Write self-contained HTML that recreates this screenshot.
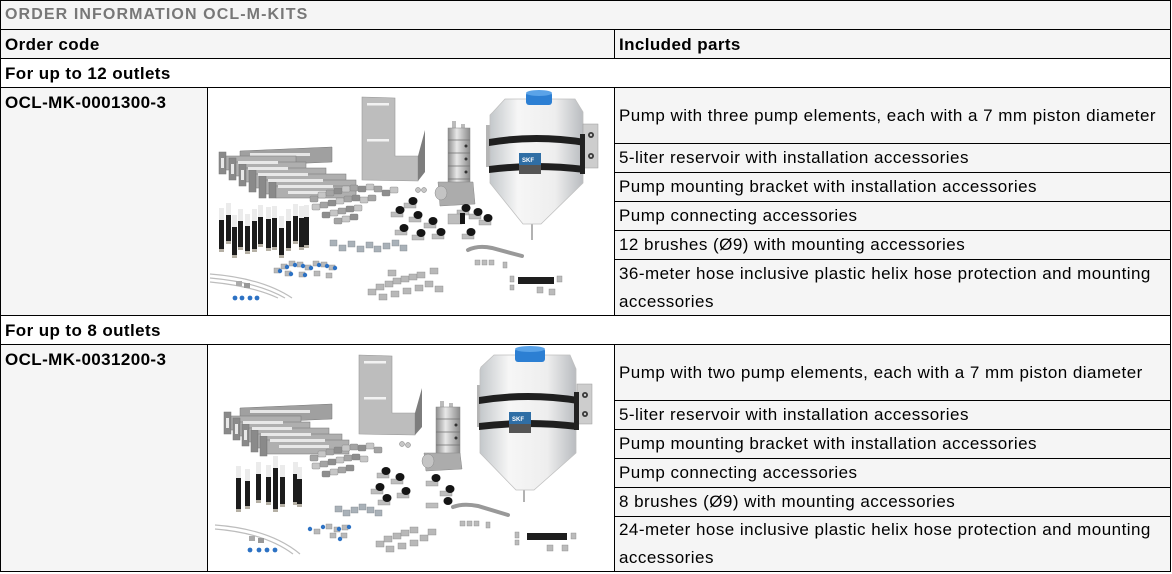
<!DOCTYPE html>
<html>
<head>
<meta charset="utf-8">
<style>
html,body{margin:0;padding:0;}
body{width:1172px;height:574px;background:#fff;position:relative;overflow:hidden;font-family:"Liberation Sans",Arial,sans-serif;color:#000;}
.a{position:absolute;}
.bg{position:absolute;background:#f5f5f5;}
.h{position:absolute;height:1px;background:#000;}
.v{position:absolute;width:1px;background:#000;}
.b{position:absolute;font-weight:bold;font-size:17px;letter-spacing:0.4px;line-height:29px;white-space:nowrap;}
.t{position:absolute;left:615px;width:555px;box-sizing:border-box;padding-left:4px;display:flex;align-items:center;font-size:17px;letter-spacing:0.47px;line-height:28px;white-space:nowrap;}
</style>
</head>
<body>
<svg width="0" height="0" style="position:absolute">
<defs>
<linearGradient id="tk" x1="0" x2="1" y1="0" y2="0"><stop offset="0" stop-color="#c4c8cb"/><stop offset="0.3" stop-color="#f6f6f6"/><stop offset="0.7" stop-color="#eeeeee"/><stop offset="1" stop-color="#b9bcc0"/></linearGradient>
<linearGradient id="cy" x1="0" x2="1" y1="0" y2="0"><stop offset="0" stop-color="#8d8d8d"/><stop offset="0.4" stop-color="#e8e8e8"/><stop offset="1" stop-color="#8a8a8a"/></linearGradient>
</defs>
</svg>

<!-- backgrounds -->
<div class="bg" style="left:0;top:0;width:1171px;height:58px;"></div>
<div class="bg" style="left:0;top:87px;width:207px;height:228px;"></div>
<div class="bg" style="left:614px;top:87px;width:557px;height:228px;"></div>
<div class="bg" style="left:0;top:344px;width:207px;height:228px;"></div>
<div class="bg" style="left:614px;top:344px;width:557px;height:228px;"></div>

<!-- images -->
<svg class="a" style="left:208px;top:88px" width="406" height="227" viewBox="208 88 406 227">
<!-- bracket stack -->
<polygon points="240,151 332,147 332,162 240,166" fill="#a0a0a0" stroke="#777" stroke-width="0.5"/>
<rect x="250" y="153" width="60" height="3" fill="#e6e6e6"/>
<g stroke="#777" stroke-width="0.5">
<rect x="219" y="152" width="7" height="22" fill="#8a8a8a"/><rect x="226" y="156" width="70" height="14" fill="#afafaf"/>
<rect x="229" y="158" width="7" height="22" fill="#8a8a8a"/><rect x="236" y="162" width="70" height="14" fill="#afafaf"/>
<rect x="239" y="164" width="7" height="22" fill="#8a8a8a"/><rect x="246" y="168" width="80" height="14" fill="#afafaf"/>
<rect x="249" y="170" width="7" height="22" fill="#8a8a8a"/><rect x="256" y="174" width="90" height="14" fill="#afafaf"/>
<rect x="259" y="176" width="7" height="22" fill="#8a8a8a"/><rect x="266" y="180" width="90" height="14" fill="#afafaf"/>
<rect x="269" y="182" width="7" height="16" fill="#8a8a8a"/><rect x="276" y="186" width="80" height="12" fill="#afafaf"/>
</g>
<g fill="#e8e8e8">
<rect x="238" y="161" width="40" height="3"/><rect x="248" y="167" width="40" height="3"/><rect x="258" y="173" width="50" height="3"/>
<rect x="268" y="179" width="55" height="3"/><rect x="278" y="185" width="55" height="3"/><rect x="288" y="191" width="45" height="3"/>
<rect x="221" y="158" width="3" height="10"/><rect x="231" y="164" width="3" height="10"/><rect x="241" y="170" width="3" height="10"/>
</g>
<!-- L bracket -->
<polygon points="362,97 395,98 395,156 418,156 418,181 362,180" fill="#bdbdbd" stroke="#999" stroke-width="0.6"/>
<polygon points="418,156 425,130 425,172 418,181" fill="#7d7d7d"/>
<rect x="367" y="103" width="22" height="2.5" fill="#f2f2f2"/>
<rect x="367" y="139" width="22" height="2.5" fill="#f2f2f2"/>
<circle cx="418" cy="190" r="2.5" fill="#c6c6c6" stroke="#777" stroke-width="0.5"/>
<circle cx="424" cy="190" r="2.5" fill="#c6c6c6" stroke="#777" stroke-width="0.5"/>
<!-- pump -->
<rect x="452" y="121" width="4" height="8" fill="#bbb"/><rect x="461" y="124" width="4" height="5" fill="#bbb"/>
<rect x="448" y="128" width="22" height="58" fill="url(#cy)" stroke="#888" stroke-width="0.5"/>
<g stroke="#6f6f6f" stroke-width="0.8"><line x1="448" y1="140" x2="470" y2="140"/><line x1="448" y1="153" x2="470" y2="153"/><line x1="448" y1="166" x2="470" y2="166"/><line x1="448" y1="179" x2="470" y2="179"/></g>
<g fill="#333"><circle cx="466" cy="146" r="1.5"/><circle cx="466" cy="159" r="1.5"/><circle cx="466" cy="172" r="1.5"/></g>
<polygon points="438,182 473,182 475,204 440,206" fill="#acacac" stroke="#888" stroke-width="0.5"/>
<ellipse cx="441" cy="193" rx="6" ry="7" fill="#c4c4c4" stroke="#888" stroke-width="0.5"/>
<!-- tank -->
<line x1="532" y1="222" x2="532" y2="240" stroke="#999" stroke-width="1.5"/>
<rect x="486" y="125" width="5" height="42" fill="#b5b5b5"/>
<polygon points="493,112 505,99 575,99 583,112 583,183 541,224 523,224 490,183 490,115" fill="url(#tk)" stroke="#c0c0c0" stroke-width="0.8"/>
<path d="M489,139 Q536,131 585,139 L585,146 Q536,138 489,146 Z" fill="#1f1f1f"/>
<path d="M489,166 Q536,160 585,166 L585,173 Q536,167 489,173 Z" fill="#1f1f1f"/>
<rect x="583" y="124" width="15" height="44" fill="#cdcdcd" stroke="#9a9a9a" stroke-width="0.5"/>
<rect x="580" y="134" width="5" height="40" fill="#222"/>
<circle cx="591" cy="135" r="3" fill="#3a3a3a"/><circle cx="591" cy="135" r="1.2" fill="#ccc"/>
<circle cx="591" cy="156" r="3" fill="#3a3a3a"/><circle cx="591" cy="156" r="1.2" fill="#ccc"/>
<rect x="519" y="153" width="22" height="12" fill="#2f6ea5"/>
<rect x="519" y="165" width="22" height="9" fill="#555"/>
<text x="522" y="162" font-family="Liberation Sans, sans-serif" font-size="6" font-weight="bold" fill="#fff">SKF</text>
<rect x="526" y="92" width="26" height="13" rx="3" fill="#2c7fd3"/>
<ellipse cx="539" cy="93" rx="13" ry="3" fill="#5aa3e8"/>
<!-- fittings cluster -->
<g stroke="#7d7d7d" stroke-width="0.4">
<rect x="310" y="196" width="8" height="6" rx="1" fill="#a4a4a4"/><rect x="318" y="192" width="8" height="6" rx="1" fill="#c6c6c6"/><rect x="326" y="190" width="8" height="6" rx="1" fill="#a4a4a4"/><rect x="334" y="188" width="8" height="6" rx="1" fill="#8e8e8e"/><rect x="342" y="186" width="8" height="6" rx="1" fill="#c6c6c6"/><rect x="350" y="185" width="8" height="6" rx="1" fill="#a4a4a4"/><rect x="358" y="186" width="8" height="6" rx="1" fill="#8e8e8e"/><rect x="366" y="184" width="8" height="6" rx="1" fill="#c6c6c6"/><rect x="374" y="186" width="8" height="6" rx="1" fill="#a4a4a4"/><rect x="382" y="190" width="8" height="6" rx="1" fill="#8e8e8e"/><rect x="390" y="187" width="8" height="6" rx="1" fill="#c6c6c6"/>
<rect x="312" y="204" width="8" height="6" rx="1" fill="#c6c6c6"/><rect x="320" y="202" width="8" height="6" rx="1" fill="#a4a4a4"/><rect x="328" y="200" width="8" height="6" rx="1" fill="#8e8e8e"/><rect x="336" y="198" width="8" height="6" rx="1" fill="#c6c6c6"/><rect x="344" y="196" width="8" height="6" rx="1" fill="#a4a4a4"/><rect x="352" y="195" width="8" height="6" rx="1" fill="#8e8e8e"/><rect x="360" y="197" width="8" height="6" rx="1" fill="#c6c6c6"/><rect x="368" y="195" width="8" height="6" rx="1" fill="#a4a4a4"/>
<rect x="322" y="212" width="8" height="6" rx="1" fill="#8e8e8e"/><rect x="330" y="210" width="8" height="6" rx="1" fill="#c6c6c6"/><rect x="338" y="208" width="8" height="6" rx="1" fill="#a4a4a4"/><rect x="346" y="206" width="8" height="6" rx="1" fill="#8e8e8e"/><rect x="354" y="205" width="8" height="6" rx="1" fill="#c6c6c6"/>
<rect x="334" y="218" width="8" height="6" rx="1" fill="#a4a4a4"/><rect x="342" y="216" width="8" height="6" rx="1" fill="#c6c6c6"/><rect x="350" y="214" width="8" height="6" rx="1" fill="#8e8e8e"/>
</g>
<!-- clamps -->
<g stroke="#8a8a8a" stroke-width="0.4" fill="#bdbdbd">
<rect x="391" y="212" width="12" height="5"/><rect x="404" y="203" width="12" height="5"/><rect x="409" y="217" width="12" height="5"/><rect x="424" y="223" width="12" height="5"/><rect x="432" y="234" width="12" height="5"/><rect x="395" y="230" width="12" height="5"/><rect x="412" y="235" width="12" height="5"/><rect x="457" y="210" width="12" height="5"/><rect x="469" y="214" width="12" height="5"/><rect x="479" y="220" width="12" height="5"/><rect x="462" y="234" width="12" height="5"/><rect x="448" y="214" width="14" height="10"/>
</g>
<g fill="#151515">
<ellipse cx="400" cy="210" rx="4.5" ry="4"/><ellipse cx="413" cy="201" rx="4.5" ry="4"/><ellipse cx="418" cy="215" rx="4.5" ry="4"/><ellipse cx="433" cy="221" rx="4.5" ry="4"/><ellipse cx="441" cy="232" rx="4.5" ry="4"/><ellipse cx="404" cy="228" rx="4.5" ry="4"/><ellipse cx="421" cy="233" rx="4.5" ry="4"/><ellipse cx="466" cy="208" rx="4.5" ry="4"/><ellipse cx="478" cy="212" rx="4.5" ry="4"/><ellipse cx="488" cy="218" rx="4.5" ry="4"/><ellipse cx="471" cy="232" rx="4.5" ry="4"/><rect x="460" y="213" width="5" height="11"/>
</g>
<!-- nuts -->
<g fill="#a9b1b8" stroke="#7f878d" stroke-width="0.4">
<rect x="330" y="240" width="7" height="6"/><rect x="339" y="245" width="7" height="6"/><rect x="348" y="241" width="7" height="6"/><rect x="357" y="246" width="7" height="6"/><rect x="366" y="242" width="7" height="6"/><rect x="374" y="246" width="7" height="6"/><rect x="383" y="243" width="7" height="6"/><rect x="392" y="240" width="7" height="6"/><rect x="400" y="245" width="7" height="6"/>
</g>
<!-- blue fittings -->
<g fill="#b9b9b9" stroke="#888" stroke-width="0.4">
<rect x="274" y="268" width="6" height="5"/><rect x="281" y="264" width="6" height="5"/><rect x="289" y="261" width="6" height="5"/><rect x="297" y="262" width="6" height="5"/><rect x="305" y="265" width="6" height="5"/><rect x="313" y="261" width="6" height="5"/><rect x="321" y="262" width="6" height="5"/><rect x="329" y="265" width="6" height="5"/><rect x="285" y="271" width="6" height="5"/><rect x="299" y="272" width="6" height="5"/><rect x="314" y="271" width="6" height="5"/><rect x="326" y="273" width="6" height="5"/>
</g>
<g fill="#2d72c4">
<circle cx="280" cy="271" r="2.2"/><circle cx="287" cy="267" r="2.2"/><circle cx="295" cy="265" r="2.2"/><circle cx="303" cy="266" r="2.2"/><circle cx="311" cy="268" r="2.2"/><circle cx="319" cy="265" r="2.2"/><circle cx="327" cy="266" r="2.2"/><circle cx="335" cy="268" r="2.2"/><circle cx="291" cy="274" r="2.2"/><circle cx="305" cy="275" r="2.2"/>
</g>
<!-- hoses -->
<g stroke="#bdbdbd" stroke-width="1.2" fill="none">
<path d="M210,274 Q262,278 292,298"/><path d="M210,278 Q257,282 285,298"/><path d="M210,282 Q252,286 278,298"/>
</g>
<rect x="236" y="281" width="6" height="5" fill="#aaa"/><rect x="244" y="283" width="6" height="5" fill="#999"/>
<g fill="#2d72c4"><circle cx="235" cy="298" r="2.4"/><circle cx="242" cy="298" r="2.4"/><circle cx="250" cy="298" r="2.4"/><circle cx="257" cy="298" r="2.4"/></g>
<!-- bottom fittings -->
<g fill="#b8b8b8" stroke="#888" stroke-width="0.4">
<rect x="368" y="289" width="8" height="6"/><rect x="376" y="284" width="8" height="6"/><rect x="385" y="281" width="8" height="6"/><rect x="393" y="278" width="8" height="6"/><rect x="401" y="276" width="8" height="6"/><rect x="409" y="274" width="8" height="6"/><rect x="417" y="272" width="8" height="6"/><rect x="379" y="294" width="8" height="6"/><rect x="391" y="291" width="8" height="6"/><rect x="403" y="288" width="8" height="6"/><rect x="415" y="285" width="8" height="6"/><rect x="425" y="281" width="8" height="6"/><rect x="435" y="286" width="8" height="6"/><rect x="388" y="270" width="8" height="6"/><rect x="430" y="268" width="8" height="6"/>
</g>
<!-- rod, tube -->
<path d="M468,250 Q478,245 492,248 L522,256" stroke="#999" stroke-width="4" stroke-linecap="round" fill="none"/>
<g fill="#bbb" stroke="#888" stroke-width="0.4"><rect x="475" y="260" width="5" height="5"/><rect x="482" y="260" width="5" height="5"/><rect x="489" y="260" width="5" height="5"/><rect x="503" y="262" width="4" height="6"/><rect x="510" y="276" width="4" height="6"/><rect x="510" y="285" width="4" height="5"/><rect x="557" y="276" width="5" height="6"/><rect x="537" y="287" width="6" height="6"/><rect x="549" y="289" width="6" height="6"/></g>
<rect x="518" y="277" width="36" height="7" fill="#1e1e1e"/>
<!-- brushes -->
<g>
<rect x="219" y="208" width="5" height="12" fill="#ebebeb"/><rect x="219" y="220" width="5" height="29" fill="#1c1c1c"/><rect x="219" y="249" width="5" height="3" fill="#b5b0a5"/>
<rect x="226" y="203" width="5" height="12" fill="#ebebeb"/><rect x="226" y="215" width="5" height="26" fill="#1c1c1c"/><rect x="226" y="241" width="5" height="3" fill="#b5b0a5"/>
<rect x="232" y="215" width="5" height="12" fill="#ebebeb"/><rect x="232" y="227" width="5" height="28" fill="#1c1c1c"/><rect x="232" y="255" width="5" height="3" fill="#b5b0a5"/>
<rect x="238" y="209" width="5" height="12" fill="#ebebeb"/><rect x="238" y="221" width="5" height="26" fill="#1c1c1c"/><rect x="238" y="247" width="5" height="3" fill="#b5b0a5"/>
<rect x="245" y="214" width="5" height="12" fill="#ebebeb"/><rect x="245" y="226" width="5" height="25" fill="#1c1c1c"/><rect x="245" y="251" width="5" height="3" fill="#b5b0a5"/>
<rect x="252" y="209" width="5" height="12" fill="#ebebeb"/><rect x="252" y="221" width="5" height="28" fill="#1c1c1c"/><rect x="252" y="249" width="5" height="3" fill="#b5b0a5"/>
<rect x="258" y="205" width="5" height="12" fill="#ebebeb"/><rect x="258" y="217" width="5" height="27" fill="#1c1c1c"/><rect x="258" y="244" width="5" height="3" fill="#b5b0a5"/>
<rect x="266" y="207" width="5" height="12" fill="#ebebeb"/><rect x="266" y="219" width="5" height="29" fill="#1c1c1c"/><rect x="266" y="248" width="5" height="3" fill="#b5b0a5"/>
<rect x="272" y="206" width="5" height="12" fill="#ebebeb"/><rect x="272" y="218" width="5" height="29" fill="#1c1c1c"/><rect x="272" y="247" width="5" height="3" fill="#b5b0a5"/>
<rect x="279" y="216" width="5" height="12" fill="#ebebeb"/><rect x="279" y="228" width="5" height="27" fill="#1c1c1c"/><rect x="279" y="255" width="5" height="3" fill="#b5b0a5"/>
<rect x="286" y="209" width="5" height="12" fill="#ebebeb"/><rect x="286" y="221" width="5" height="27" fill="#1c1c1c"/><rect x="286" y="248" width="5" height="3" fill="#b5b0a5"/>
<rect x="293" y="204" width="5" height="12" fill="#ebebeb"/><rect x="293" y="216" width="5" height="25" fill="#1c1c1c"/><rect x="293" y="241" width="5" height="3" fill="#b5b0a5"/>
<rect x="299" y="206" width="5" height="12" fill="#ebebeb"/><rect x="299" y="218" width="5" height="29" fill="#1c1c1c"/><rect x="299" y="247" width="5" height="3" fill="#b5b0a5"/>
<rect x="304" y="205" width="5" height="12" fill="#ebebeb"/><rect x="304" y="217" width="5" height="28" fill="#1c1c1c"/><rect x="304" y="245" width="5" height="3" fill="#b5b0a5"/>
</g>
</svg>

<svg class="a" style="left:208px;top:345px" width="406" height="227" viewBox="208 88 406 227">
<polygon points="240,151 332,147 332,162 240,166" fill="#a0a0a0" stroke="#777" stroke-width="0.5"/>
<rect x="250" y="153" width="60" height="3" fill="#e6e6e6"/>
<g stroke="#777" stroke-width="0.5">
<rect x="224" y="155" width="7" height="22" fill="#8a8a8a"/><rect x="231" y="159" width="70" height="14" fill="#afafaf"/>
<rect x="233" y="161" width="7" height="22" fill="#8a8a8a"/><rect x="240" y="165" width="70" height="14" fill="#afafaf"/>
<rect x="242" y="167" width="7" height="22" fill="#8a8a8a"/><rect x="249" y="171" width="80" height="14" fill="#afafaf"/>
<rect x="251" y="173" width="7" height="22" fill="#8a8a8a"/><rect x="258" y="177" width="84" height="14" fill="#afafaf"/>
<rect x="260" y="179" width="7" height="20" fill="#8a8a8a"/><rect x="267" y="183" width="82" height="14" fill="#afafaf"/>
</g>
<g fill="#e8e8e8">
<rect x="243" y="164" width="40" height="3"/><rect x="252" y="170" width="40" height="3"/><rect x="261" y="176" width="50" height="3"/>
<rect x="270" y="182" width="55" height="3"/><rect x="279" y="188" width="50" height="3"/>
<rect x="226" y="161" width="3" height="10"/><rect x="235" y="167" width="3" height="10"/><rect x="244" y="173" width="3" height="10"/>
</g>
<polygon points="359,98 392,99 392,156 415,156 415,178 359,177" fill="#bdbdbd" stroke="#999" stroke-width="0.6"/>
<polygon points="415,156 422,131 422,170 415,178" fill="#7d7d7d"/>
<rect x="364" y="104" width="22" height="2.5" fill="#f2f2f2"/>
<rect x="364" y="140" width="22" height="2.5" fill="#f2f2f2"/>
<circle cx="402" cy="187" r="2.5" fill="#c6c6c6" stroke="#777" stroke-width="0.5"/>
<circle cx="408" cy="188" r="2.5" fill="#c6c6c6" stroke="#777" stroke-width="0.5"/>
<rect x="440" y="144" width="4" height="8" fill="#bbb"/><rect x="449" y="146" width="4" height="5" fill="#bbb"/>
<rect x="436" y="150" width="24" height="50" fill="url(#cy)" stroke="#888" stroke-width="0.5"/>
<g stroke="#6f6f6f" stroke-width="0.8"><line x1="436" y1="162" x2="460" y2="162"/><line x1="436" y1="175" x2="460" y2="175"/><line x1="436" y1="188" x2="460" y2="188"/></g>
<g fill="#333"><circle cx="456" cy="168" r="1.5"/><circle cx="456" cy="181" r="1.5"/></g>
<polygon points="424,196 460,196 462,212 426,214" fill="#acacac" stroke="#888" stroke-width="0.5"/>
<ellipse cx="428" cy="204" rx="6" ry="7" fill="#c4c4c4" stroke="#888" stroke-width="0.5"/>
<line x1="524" y1="232" x2="524" y2="245" stroke="#999" stroke-width="1.5"/>
<rect x="477" y="128" width="5" height="42" fill="#b5b5b5"/>
<polygon points="481,110 494,98 570,98 576,112 576,196 534,233 516,233 480,196 480,113" fill="url(#tk)" stroke="#c0c0c0" stroke-width="0.8"/>
<path d="M479,140 Q528,132 578,140 L578,147 Q528,139 479,147 Z" fill="#1f1f1f"/>
<path d="M479,166 Q528,160 578,166 L578,173 Q528,167 479,173 Z" fill="#1f1f1f"/>
<rect x="577" y="127" width="15" height="40" fill="#cdcdcd" stroke="#9a9a9a" stroke-width="0.5"/>
<rect x="574" y="135" width="5" height="38" fill="#222"/>
<circle cx="585" cy="138" r="3" fill="#3a3a3a"/><circle cx="585" cy="138" r="1.2" fill="#ccc"/>
<circle cx="585" cy="157" r="3" fill="#3a3a3a"/><circle cx="585" cy="157" r="1.2" fill="#ccc"/>
<rect x="509" y="155" width="22" height="12" fill="#2f6ea5"/>
<rect x="509" y="167" width="22" height="9" fill="#555"/>
<text x="512" y="164" font-family="Liberation Sans, sans-serif" font-size="6" font-weight="bold" fill="#fff">SKF</text>
<rect x="515" y="91" width="30" height="14" rx="3" fill="#2c7fd3"/>
<ellipse cx="530" cy="92" rx="15" ry="3" fill="#5aa3e8"/>
<g stroke="#7d7d7d" stroke-width="0.4">
<rect x="310" y="198" width="8" height="6" rx="1" fill="#a4a4a4"/><rect x="318" y="194" width="8" height="6" rx="1" fill="#c6c6c6"/><rect x="326" y="192" width="8" height="6" rx="1" fill="#a4a4a4"/><rect x="334" y="190" width="8" height="6" rx="1" fill="#8e8e8e"/><rect x="342" y="188" width="8" height="6" rx="1" fill="#c6c6c6"/><rect x="350" y="187" width="8" height="6" rx="1" fill="#a4a4a4"/><rect x="358" y="188" width="8" height="6" rx="1" fill="#8e8e8e"/><rect x="366" y="186" width="8" height="6" rx="1" fill="#c6c6c6"/><rect x="374" y="190" width="8" height="6" rx="1" fill="#a4a4a4"/>
<rect x="312" y="206" width="8" height="6" rx="1" fill="#c6c6c6"/><rect x="320" y="204" width="8" height="6" rx="1" fill="#a4a4a4"/><rect x="328" y="202" width="8" height="6" rx="1" fill="#8e8e8e"/><rect x="336" y="200" width="8" height="6" rx="1" fill="#c6c6c6"/><rect x="344" y="198" width="8" height="6" rx="1" fill="#a4a4a4"/><rect x="352" y="197" width="8" height="6" rx="1" fill="#8e8e8e"/><rect x="360" y="199" width="8" height="6" rx="1" fill="#c6c6c6"/>
<rect x="322" y="214" width="8" height="6" rx="1" fill="#8e8e8e"/><rect x="330" y="212" width="8" height="6" rx="1" fill="#c6c6c6"/><rect x="338" y="210" width="8" height="6" rx="1" fill="#a4a4a4"/><rect x="346" y="208" width="8" height="6" rx="1" fill="#8e8e8e"/>
</g>
<g stroke="#8a8a8a" stroke-width="0.4" fill="#bdbdbd">
<rect x="377" y="216" width="12" height="5"/><rect x="391" y="222" width="12" height="5"/><rect x="371" y="232" width="12" height="5"/><rect x="397" y="236" width="12" height="5"/><rect x="378" y="243" width="12" height="5"/><rect x="426" y="224" width="12" height="5"/><rect x="440" y="234" width="12" height="5"/><rect x="426" y="246" width="12" height="5"/>
</g>
<g fill="#151515">
<ellipse cx="386" cy="214" rx="4.5" ry="4"/><ellipse cx="400" cy="220" rx="4.5" ry="4"/><ellipse cx="380" cy="230" rx="4.5" ry="4"/><ellipse cx="406" cy="234" rx="4.5" ry="4"/><ellipse cx="387" cy="241" rx="4.5" ry="4"/><ellipse cx="436" cy="221" rx="4.5" ry="4"/><ellipse cx="450" cy="232" rx="4.5" ry="4"/><ellipse cx="448" cy="244" rx="4.5" ry="4"/>
</g>
<g fill="#a9b1b8" stroke="#7f878d" stroke-width="0.4">
<rect x="335" y="249" width="7" height="6"/><rect x="343" y="253" width="7" height="6"/><rect x="351" y="250" width="7" height="6"/><rect x="359" y="247" width="7" height="6"/><rect x="367" y="250" width="7" height="6"/><rect x="375" y="253" width="7" height="6"/>
</g>
<g fill="#b9b9b9" stroke="#888" stroke-width="0.4">
<rect x="314" y="272" width="6" height="5"/><rect x="326" y="267" width="6" height="5"/><rect x="334" y="270" width="6" height="5"/><rect x="342" y="268" width="6" height="5"/><rect x="330" y="276" width="6" height="5"/><rect x="341" y="276" width="6" height="5"/>
</g>
<g fill="#2d72c4">
<circle cx="310" cy="272" r="2.2"/><circle cx="323" cy="270" r="2.2"/><circle cx="339" cy="272" r="2.2"/><circle cx="349" cy="270" r="2.2"/><circle cx="340" cy="282" r="2.2"/>
</g>
<g stroke="#bdbdbd" stroke-width="1.2" fill="none">
<path d="M215,268 Q270,272 300,297"/><path d="M215,272 Q265,276 293,297"/>
</g>
<rect x="249" y="279" width="6" height="5" fill="#aaa"/><rect x="258" y="281" width="6" height="5" fill="#999"/>
<g fill="#2d72c4"><circle cx="250" cy="293" r="2.4"/><circle cx="259" cy="293" r="2.4"/><circle cx="267" cy="293" r="2.4"/><circle cx="275" cy="293" r="2.4"/></g>
<g fill="#b8b8b8" stroke="#888" stroke-width="0.4">
<rect x="376" y="284" width="8" height="6"/><rect x="384" y="279" width="8" height="6"/><rect x="393" y="276" width="8" height="6"/><rect x="401" y="273" width="8" height="6"/><rect x="410" y="270" width="8" height="6"/><rect x="420" y="278" width="8" height="6"/><rect x="386" y="289" width="8" height="6"/><rect x="398" y="286" width="8" height="6"/><rect x="410" y="283" width="8" height="6"/><rect x="428" y="272" width="8" height="6"/>
</g>
<path d="M453,250 Q463,246 478,249 L508,258" stroke="#999" stroke-width="4" stroke-linecap="round" fill="none"/>
<g fill="#bbb" stroke="#888" stroke-width="0.4"><rect x="460" y="264" width="5" height="5"/><rect x="467" y="264" width="5" height="5"/><rect x="474" y="264" width="5" height="5"/><rect x="486" y="265" width="4" height="6"/><rect x="515" y="275" width="4" height="6"/><rect x="515" y="283" width="4" height="5"/><rect x="571" y="276" width="5" height="6"/><rect x="547" y="288" width="6" height="6"/><rect x="562" y="288" width="6" height="6"/></g>
<rect x="527" y="276" width="40" height="7" fill="#1e1e1e"/>
<g>
<rect x="236" y="209" width="5" height="12" fill="#ebebeb"/><rect x="236" y="221" width="5" height="31" fill="#1c1c1c"/><rect x="236" y="252" width="5" height="3" fill="#b5b0a5"/>
<rect x="245" y="212" width="5" height="12" fill="#ebebeb"/><rect x="245" y="224" width="5" height="25" fill="#1c1c1c"/><rect x="245" y="249" width="5" height="3" fill="#b5b0a5"/>
<rect x="256" y="205" width="5" height="12" fill="#ebebeb"/><rect x="256" y="217" width="5" height="26" fill="#1c1c1c"/><rect x="256" y="243" width="5" height="3" fill="#b5b0a5"/>
<rect x="266" y="208" width="5" height="12" fill="#ebebeb"/><rect x="266" y="220" width="5" height="25" fill="#1c1c1c"/><rect x="266" y="245" width="5" height="3" fill="#b5b0a5"/>
<rect x="273" y="199" width="5" height="12" fill="#ebebeb"/><rect x="273" y="211" width="5" height="41" fill="#1c1c1c"/><rect x="273" y="252" width="5" height="3" fill="#b5b0a5"/>
<rect x="280" y="208" width="5" height="12" fill="#ebebeb"/><rect x="280" y="220" width="5" height="27" fill="#1c1c1c"/><rect x="280" y="247" width="5" height="3" fill="#b5b0a5"/>
<rect x="293" y="205" width="5" height="12" fill="#ebebeb"/><rect x="293" y="217" width="5" height="28" fill="#1c1c1c"/><rect x="293" y="245" width="5" height="3" fill="#b5b0a5"/>
<rect x="297" y="210" width="5" height="12" fill="#ebebeb"/><rect x="297" y="222" width="5" height="25" fill="#1c1c1c"/><rect x="297" y="247" width="5" height="3" fill="#b5b0a5"/>
</g>
</svg>

<!-- horizontal lines full width -->
<div class="h" style="left:0;top:0;width:1171px;"></div>
<div class="h" style="left:0;top:29px;width:1171px;"></div>
<div class="h" style="left:0;top:58px;width:1171px;"></div>
<div class="h" style="left:0;top:87px;width:1171px;"></div>
<div class="h" style="left:0;top:315px;width:1171px;"></div>
<div class="h" style="left:0;top:344px;width:1171px;"></div>
<div class="h" style="left:0;top:571px;width:1171px;"></div>
<!-- col3 sub lines -->
<div class="h" style="left:614px;top:143px;width:557px;"></div>
<div class="h" style="left:614px;top:172px;width:557px;"></div>
<div class="h" style="left:614px;top:201px;width:557px;"></div>
<div class="h" style="left:614px;top:230px;width:557px;"></div>
<div class="h" style="left:614px;top:259px;width:557px;"></div>
<div class="h" style="left:614px;top:400px;width:557px;"></div>
<div class="h" style="left:614px;top:429px;width:557px;"></div>
<div class="h" style="left:614px;top:458px;width:557px;"></div>
<div class="h" style="left:614px;top:487px;width:557px;"></div>
<div class="h" style="left:614px;top:516px;width:557px;"></div>
<!-- verticals -->
<div class="v" style="left:0;top:0;height:572px;"></div>
<div class="v" style="left:1170px;top:0;height:572px;"></div>
<div class="v" style="left:614px;top:29px;height:29px;"></div>
<div class="v" style="left:614px;top:87px;height:228px;"></div>
<div class="v" style="left:614px;top:344px;height:228px;"></div>
<div class="v" style="left:207px;top:87px;height:228px;"></div>
<div class="v" style="left:207px;top:344px;height:228px;"></div>

<!-- text -->
<div class="a" style="left:5px;top:1px;line-height:28px;font-size:16px;font-weight:bold;letter-spacing:1.1px;color:#777;white-space:nowrap;">ORDER INFORMATION OCL-M-KITS</div>
<div class="b" style="left:5px;top:30px;">Order code</div>
<div class="b" style="left:619px;top:30px;">Included parts</div>
<div class="b" style="left:5px;top:59px;">For up to 12 outlets</div>
<div class="b" style="left:5px;top:88px;">OCL-MK-0001300-3</div>
<div class="b" style="left:5px;top:316px;">For up to 8 outlets</div>
<div class="b" style="left:5px;top:345px;">OCL-MK-0031200-3</div>

<div class="t" style="top:88px;height:55px;">Pump with three pump elements, each with a 7 mm piston diameter</div>
<div class="t" style="top:144px;height:28px;">5-liter reservoir with installation accessories</div>
<div class="t" style="top:173px;height:28px;">Pump mounting bracket with installation accessories</div>
<div class="t" style="top:202px;height:28px;">Pump connecting accessories</div>
<div class="t" style="top:231px;height:28px;">12 brushes (Ø9) with mounting accessories</div>
<div class="t" style="top:260px;height:55px;">36-meter hose inclusive plastic helix hose protection and mounting<br>accessories</div>

<div class="t" style="top:345px;height:55px;">Pump with two pump elements, each with a 7 mm piston diameter</div>
<div class="t" style="top:401px;height:28px;">5-liter reservoir with installation accessories</div>
<div class="t" style="top:430px;height:28px;">Pump mounting bracket with installation accessories</div>
<div class="t" style="top:459px;height:28px;">Pump connecting accessories</div>
<div class="t" style="top:488px;height:28px;">8 brushes (Ø9) with mounting accessories</div>
<div class="t" style="top:517px;height:54px;">24-meter hose inclusive plastic helix hose protection and mounting<br>accessories</div>
</body>
</html>
